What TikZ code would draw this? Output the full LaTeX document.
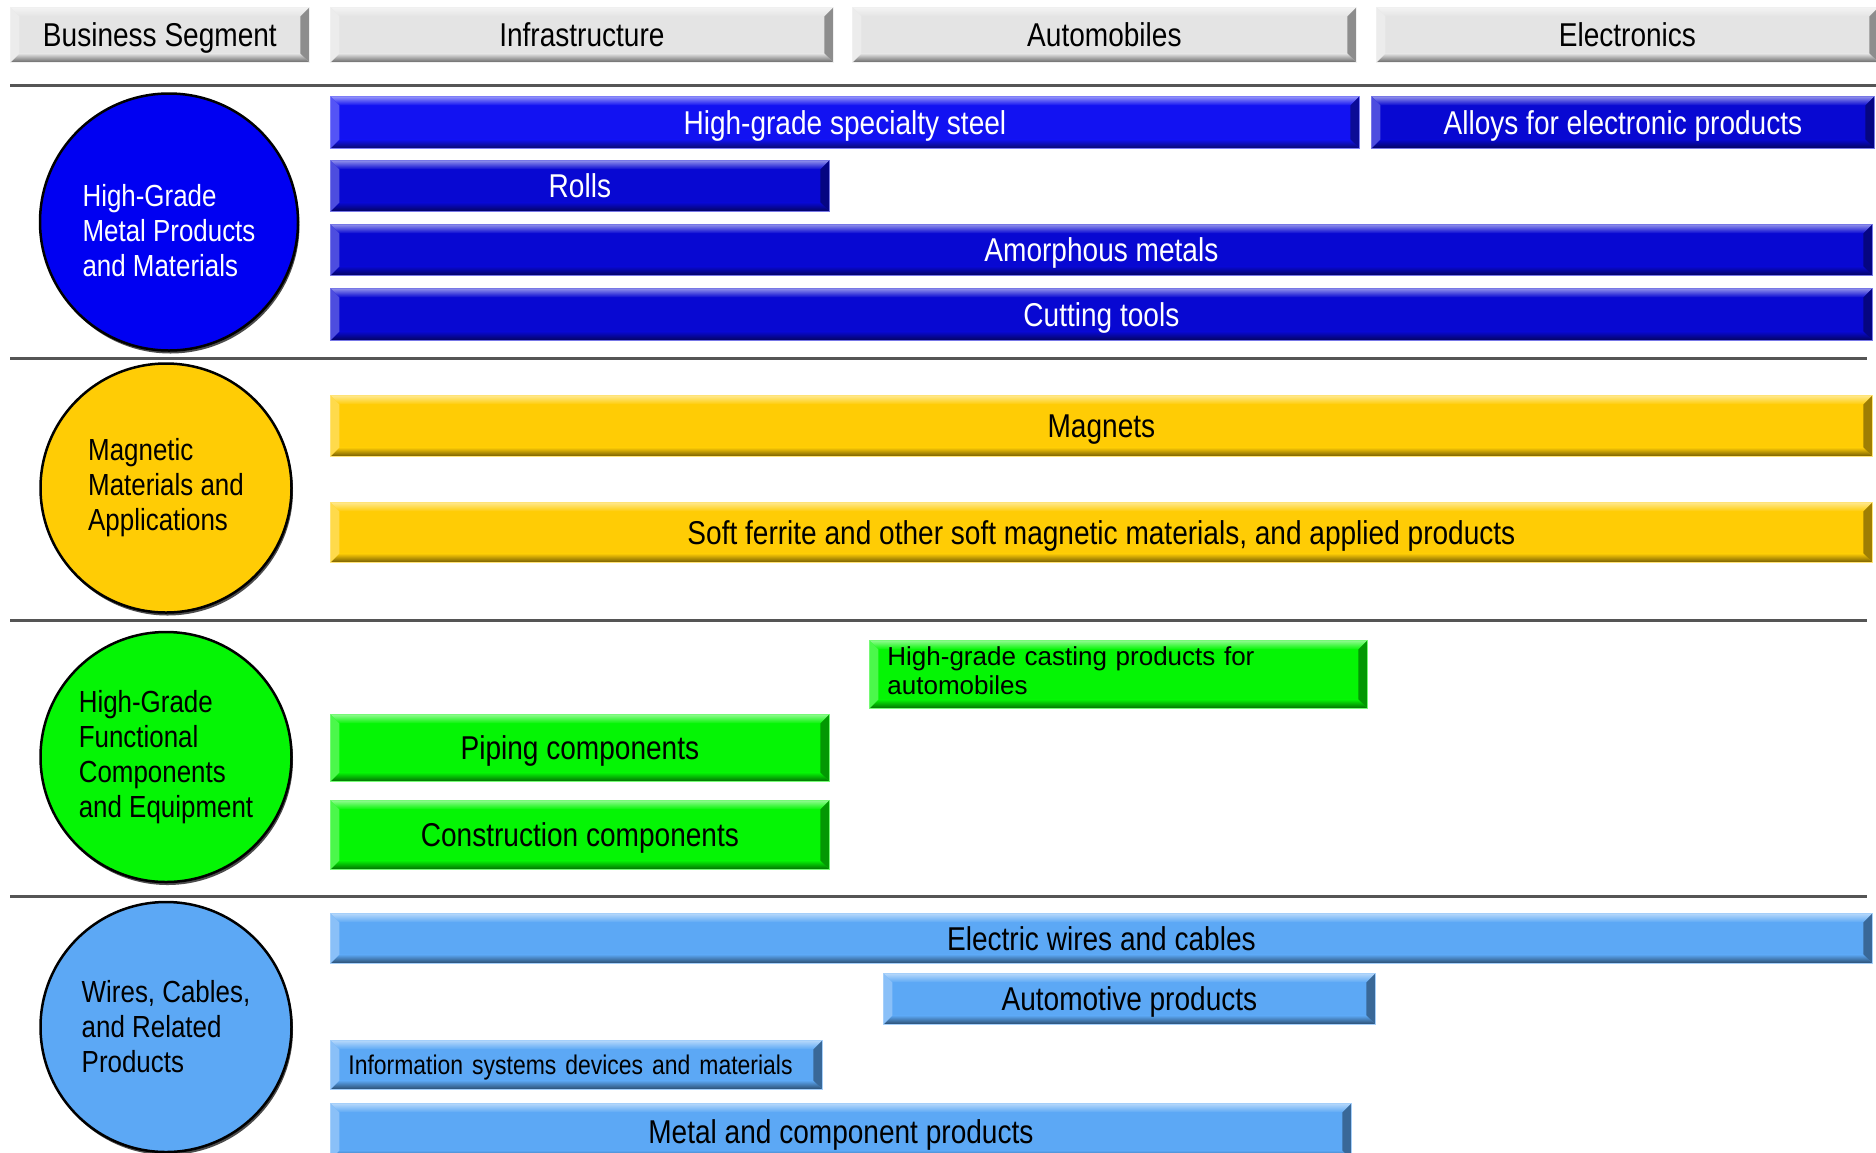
\documentclass[tikz,border=0pt]{standalone}
\usepackage{fontspec}
\setmainfont{Liberation Sans}[FakeStretch=0.85]
\newfontfamily\plainarial{Liberation Sans}
\usetikzlibrary{shapes.geometric,shadows}
\definecolor{hdr}{HTML}{E4E4E4}
\definecolor{blueA}{HTML}{1212F2}
\definecolor{blueB}{HTML}{0808D2}
\definecolor{blueC}{HTML}{0000F2}
\definecolor{yel}{HTML}{FFCC05}
\definecolor{grn}{HTML}{05F505}
\definecolor{lblue}{HTML}{5CA8F5}
\definecolor{rule}{HTML}{555555}
\tikzset{
  bevbox/.style={rectangle, inner sep=0pt, anchor=north west, fill=#1,
    draw=#1!55!white, line width=0.8pt,
    path picture={
      \path (path picture bounding box.north west) coordinate (pA)
            (path picture bounding box.south east) coordinate (pC);
      \path (pA |- pC) coordinate (pD) (pC |- pA) coordinate (pB);
      \shade[top color=#1!45!white, bottom color=#1]
        (pA) -- (pB) -- ([shift={(-9pt,-9pt)}]pB) -- ([shift={(9pt,-9pt)}]pA) -- cycle;
      \shade[top color=#1, bottom color=#1!45!black]
        (pD) -- (pC) -- ([shift={(-9pt,9pt)}]pC) -- ([shift={(9pt,9pt)}]pD) -- cycle;
      \fill[#1!72!white] (pA) -- ([shift={(9pt,-9pt)}]pA) -- ([shift={(9pt,9pt)}]pD) -- (pD) -- cycle;
      \fill[#1!62!black] (pB) -- ([shift={(-9pt,-9pt)}]pB) -- ([shift={(-9pt,9pt)}]pC) -- (pC) -- cycle;
    }},
  bigtxt/.style={font=\fontsize{33}{38}\selectfont, text height=23.6pt, text depth=0pt},
  seg/.style={ellipse, inner sep=0pt, draw=black, line width=2.5pt, align=left,
    font=\fontsize{30.5}{35}\selectfont,
    drop shadow={shadow xshift=1.5pt, shadow yshift=-3pt, fill=black, opacity=0.7}},
  sep/.style={draw=rule, line width=3pt}
}
\begin{document}
\begin{tikzpicture}[x=1pt,y=-1pt]
\useasboundingbox (0,0) rectangle (1876,1152);
\clip (0,0) rectangle (1876,1152);
\fill[white] (0,0) rectangle (1876,1152);

% headers
\node[bevbox=hdr, bigtxt, minimum width=299pt, minimum height=55pt] (hbs) at (10,7) {Business Segment};
\node[bevbox=hdr, bigtxt, minimum width=503pt, minimum height=55pt] (hinf) at (330,7) {Infrastructure};
\node[bevbox=hdr, bigtxt, minimum width=504pt, minimum height=55pt] (haut) at (852,7) {Automobiles};
\node[bevbox=hdr, bigtxt, minimum width=502pt, minimum height=55pt] (hele) at (1376,7) {Electronics};

% separators
\coordinate (l1a) at (10,85);   \coordinate (l1b) at (1876,85);
\coordinate (l2a) at (10,358);  \coordinate (l2b) at (1867,358);
\coordinate (l3a) at (10,620);  \coordinate (l3b) at (1867,620);
\coordinate (l4a) at (10,896);  \coordinate (l4b) at (1867,896);
\draw[sep] (l1a) -- (l1b);
\draw[sep] (l2a) -- (l2b);
\draw[sep] (l3a) -- (l3b);
\draw[sep] (l4a) -- (l4b);

% segment circles
\node[seg, fill=blueC, text=white, minimum width=258pt, minimum height=257pt] (s1) at (169,222) {\rule{0pt}{40pt}High-Grade\\Metal Products\\and Materials};
\node[seg, fill=yel, minimum width=251pt, minimum height=249pt] (s2) at (166,488) {Magnetic\\Materials and\\Applications};
\node[seg, fill=grn, minimum width=251pt, minimum height=250pt] (s3) at (166,757) {High-Grade\\Functional\\Components\\and Equipment};
\node[seg, fill=lblue, minimum width=251pt, minimum height=250pt] (s4) at (166,1027) {Wires, Cables,\\and Related\\Products};

% blue bars
\node[bevbox=blueA, bigtxt, text=white, minimum width=1029pt, minimum height=52pt] (b1) at (330,96) {High-grade specialty steel};
\node[bevbox=blueB, bigtxt, text=white, minimum width=503pt, minimum height=52pt] (b2) at (1371,96) {Alloys for electronic products};
\node[bevbox=blueB, bigtxt, text=white, minimum width=499pt, minimum height=51pt] (b3) at (330,160) {Rolls};
\node[bevbox=blueB, bigtxt, text=white, minimum width=1542pt, minimum height=51pt] (b4) at (330,224) {Amorphous metals};
\node[bevbox=blueB, bigtxt, text=white, minimum width=1542pt, minimum height=52pt] (b5) at (330,288) {Cutting tools};

% yellow bars
\node[bevbox=yel, bigtxt, minimum width=1542pt, minimum height=61pt] (y1) at (330,395) {Magnets};
\node[bevbox=yel, bigtxt, minimum width=1542pt, minimum height=60pt] (y2) at (330,502) {Soft ferrite and other soft magnetic materials, and applied products};

% green bars
\node[bevbox=grn, minimum width=498pt, minimum height=68pt, text width=462pt, inner xsep=18pt, align=left,
  font=\plainarial\fontsize{26}{29}\selectfont] (g1) at (869,640)
  {\raisebox{7pt}{\begin{tabular}{@{}l@{}}High-grade casting products for\\automobiles\end{tabular}}};
\node[bevbox=grn, bigtxt, minimum width=499pt, minimum height=67pt] (g2) at (330,714) {Piping components};
\node[bevbox=grn, bigtxt, minimum width=499pt, minimum height=69pt] (g3) at (330,800) {Construction components};

% light blue bars
\node[bevbox=lblue, bigtxt, minimum width=1542pt, minimum height=50pt] (w1) at (330,913) {Electric wires and cables};
\node[bevbox=lblue, bigtxt, minimum width=492pt, minimum height=51pt] (w2) at (883,973) {Automotive products};
\node[bevbox=lblue, font=\fontsize{27}{32}\selectfont, text height=19.3pt, text depth=0pt,
  minimum width=492pt, minimum height=49pt, text width=456pt, inner xsep=18pt, align=left] (w3) at (330,1040) {Information systems devices and materials};
\node[bevbox=lblue, bigtxt, minimum width=1021pt, minimum height=56pt] (w4) at (330,1103) {Metal and component products};
\end{tikzpicture}
\end{document}
